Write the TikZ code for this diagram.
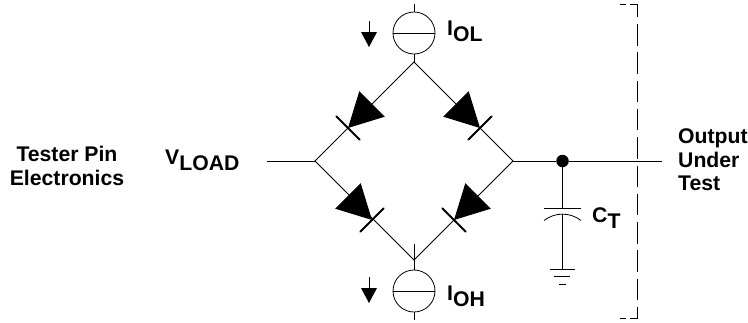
\documentclass[tikz,border=0pt]{standalone}
\usepackage{fontspec}
\setmainfont{Liberation Sans}
\usetikzlibrary{positioning}
\newcommand{\lowtxt}[1]{\raisebox{-6pt}{#1}}
\tikzset{
  wire/.style={line width=0.8pt},
  txt/.style={inner sep=0pt,anchor=base west,font=\fontsize{21.2}{23.5}\selectfont\bfseries},
  source/.style={circle,draw,line width=0.8pt,minimum size=42pt,inner sep=0pt},
  bracket/.style={line width=0.8pt},
  diode/.pic={
    \fill (0,0) -- (-34,18) -- (-34,-18) -- cycle;
    \draw[line width=1.8pt,line cap=round] (0,16.5) -- (0,-16.5);
  },
  dnarrow/.pic={
    \draw[wire] (0,0) -- (0,-11);
    \fill (-8,-11) -- (8,-11) -- (0,-26) -- cycle;
  }
}
\begin{document}
\begin{tikzpicture}[x=1pt,y=-1pt]
  \useasboundingbox (0,0) rectangle (748,322);
  % Fontes de corrente
  \node[source] (srcT) at (414,33) {};
  \node[source] (srcB) at (414,291) {};
  \draw[wire] (srcT.west) -- (srcT.east);
  \draw[wire] (srcB.west) -- (srcB.east);
  % Nos da ponte
  \coordinate (top) at (414,62);
  \coordinate (bot) at (414,260);
  \coordinate (lft) at (315,161);
  \coordinate (rgt) at (513,161);
  \coordinate (topin) at (414,4);
  \coordinate (botup) at (414,244);
  \coordinate (botout) at (414,320);
  \coordinate (vin) at (267,161);
  \coordinate (vout) at (662,161);
  \node[circle,fill=black,minimum size=12.5pt,inner sep=0pt] (dot) at (562.5,161) {};
  % Conecta nos
  \draw[wire] (topin) -- (srcT);
  \draw[wire] (srcT) -- (top);
  \draw[wire] (top) -- (lft) -- (bot) -- (rgt) -- cycle;
  \draw[wire] (botup) -- (srcB);
  \draw[wire] (srcB) -- (botout);
  \draw[wire] (vin) -- (lft);
  \draw[wire] (rgt) -- (dot) -- (vout);
  % Diodos
  \pic[rotate=-135] at (348,128) {diode};
  \pic[rotate=-45] at (480,128) {diode};
  \pic[rotate=-45] at (372,220) {diode};
  \pic[rotate=-135] at (454,220) {diode};
  % Setas
  \pic[yscale=-1,xscale=1] at (369,21) {dnarrow};
  \pic[yscale=-1,xscale=1] at (369,277) {dnarrow};
  % Capacitor e terra
  \coordinate (capA) at (562.5,208);
  \coordinate (capB) at (562.5,214);
  \coordinate (gnd) at (562.5,269);
  \draw[wire] (dot) -- (capA);
  \draw[wire] (capB) -- (gnd);
  \draw[wire] (544,208) -- (581,208);
  \draw[wire] (544,220.5) .. controls (555,212) and (570,212) .. (581,220.5);
  \draw[wire] (550,269) -- (575,269);
  \draw[wire] (554,276) -- (570,276);
  \draw[wire] (559,284) -- (566,284);
  % Limite tracejado
  \draw[bracket] (620,4) -- (626,4);
  \draw[bracket] (630,4) -- (637,4) -- (637,17);
  \draw[bracket,dash pattern=on 21.5pt off 6.8pt] (637,24) -- (637,318) -- (630,318);
  \draw[bracket] (620,318) -- (626,318);
  % Textos
  \node[txt,align=center,anchor=center] (pin) at (67,166) {Tester Pin\\Electronics};
  \node[txt] (vload) at (165,164.5) {V\lowtxt{LOAD}};
  \node[txt] (iol) at (447,35) {I\lowtxt{OL}};
  \node[txt] (ioh) at (447,300.5) {I\lowtxt{OH}};
  \node[txt] (ct) at (592,222) {C\lowtxt{T}};
  \node[txt,align=left,anchor=west] (dut) at (678,160) {Output\\Under\\Test};
\end{tikzpicture}
\end{document}
